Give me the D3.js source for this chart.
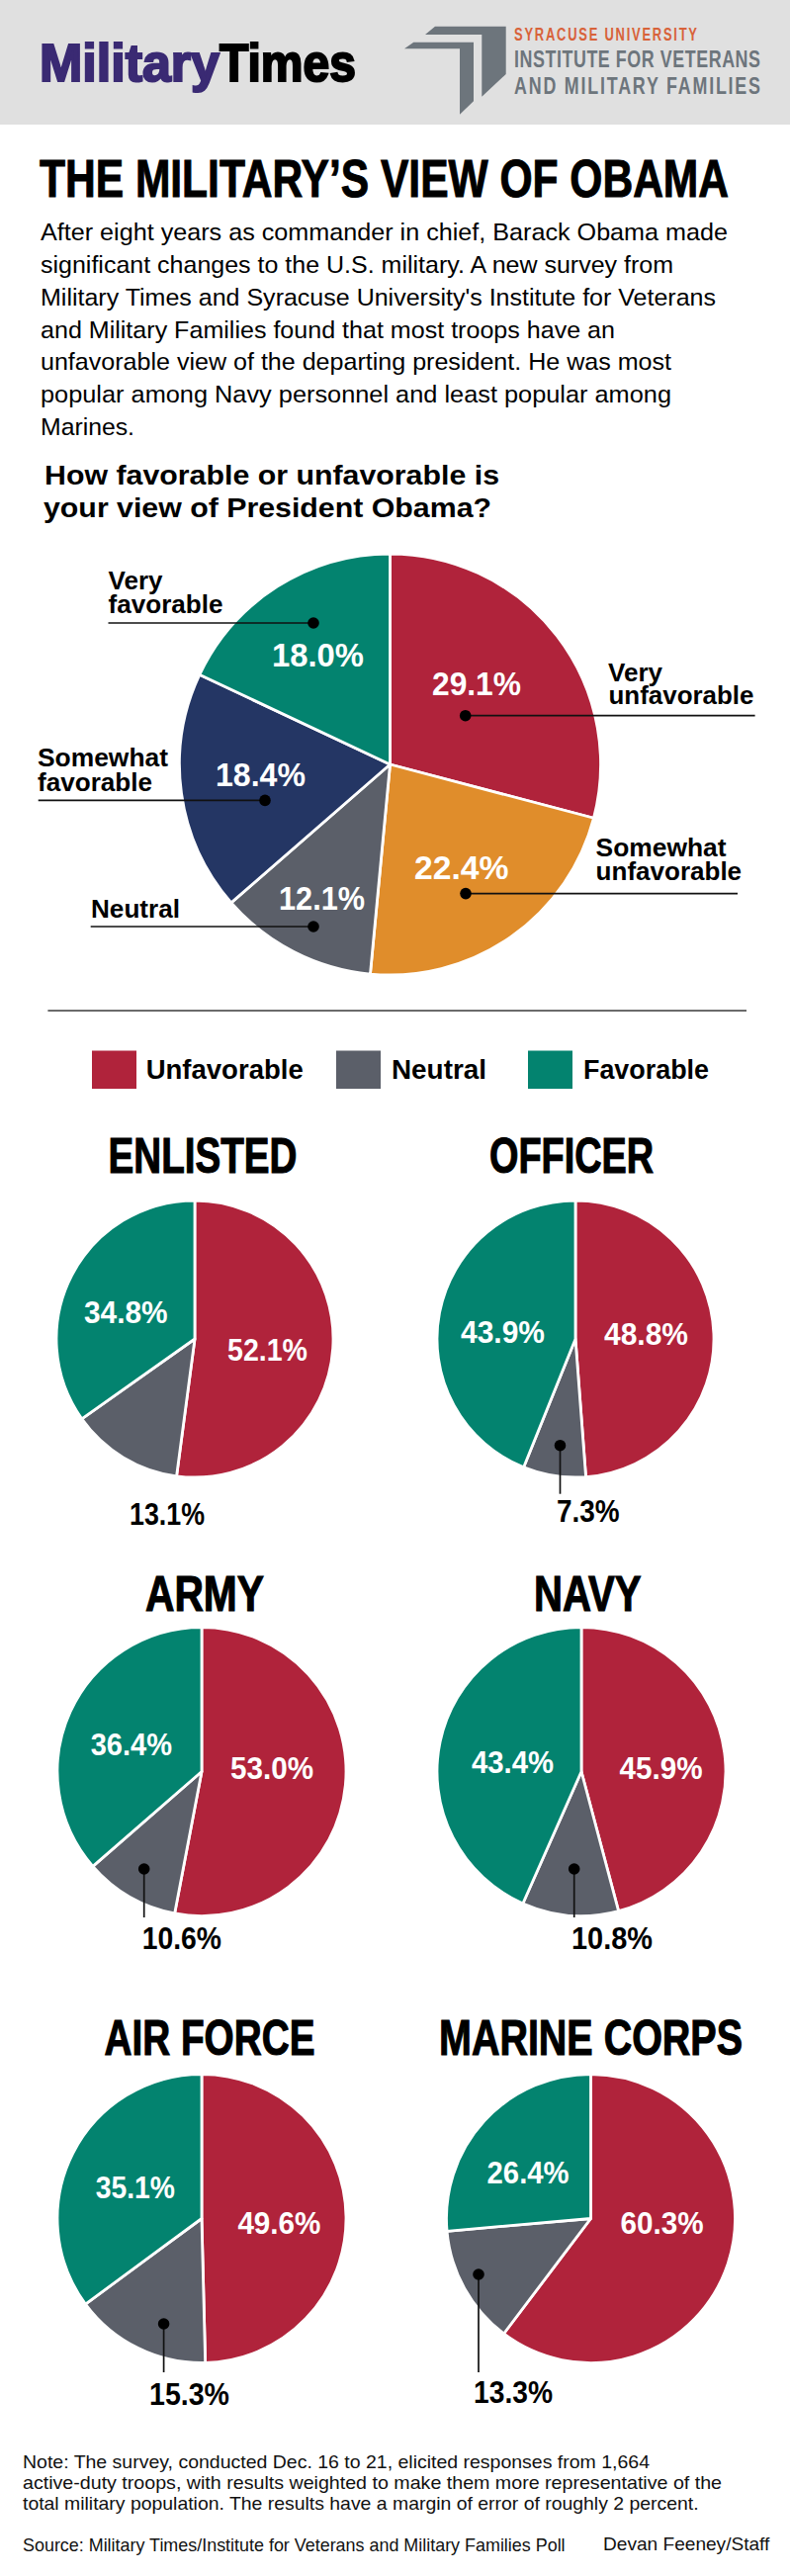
<!DOCTYPE html>
<html><head><meta charset="utf-8">
<script src="https://cdn.jsdelivr.net/npm/d3@7"></script>
<style>html,body{margin:0;padding:0;background:#fff}svg{display:block}</style>
</head><body><svg id="c" width="799" height="2605"></svg>
<script>
// ---- data ----
const overallCategories = ["Very unfavorable","Somewhat unfavorable","Neutral","Somewhat favorable","Very favorable"];
const overallValues = [29.1,22.4,12.1,18.4,18.0];
const groupNames = ["ENLISTED","OFFICER","ARMY","NAVY","AIR FORCE","MARINE CORPS"];
const unfavorable = [52.1,48.8,53.0,45.9,49.6,60.3];
const neutral = [13.1,7.3,10.6,10.8,15.3,13.3];
const favorable = [34.8,43.9,36.4,43.4,35.1,26.4];
const legendLabels = ["Unfavorable","Neutral","Favorable"];
const bodyLines = ["After eight years as commander in chief, Barack Obama made","significant changes to the U.S. military. A new survey from","Military Times and Syracuse University's Institute for Veterans","and Military Families found that most troops have an","unfavorable view of the departing president. He was most","popular among Navy personnel and least popular among","Marines."];
const noteLines = ["Note: The survey, conducted Dec. 16 to 21, elicited responses from 1,664","active-duty troops, with results weighted to make them more representative of the","total military population. The results have a margin of error of roughly 2 percent."];

// ---- style & layout ----
const RED="#b0233b",ORANGE="#e08d2b",GRAY="#5b5f69",NAVY="#243664",TEAL="#03836f";
const SANS="'Liberation Sans',Arial,sans-serif",NARROW="'Liberation Sans Narrow','Liberation Sans',sans-serif";
const svg=d3.select("#c");
function T(s,x,y,size,o={}){
  const t=svg.append("text").text(s).attr("x",x).attr("y",y).attr("font-size",size)
    .attr("font-family",o.fam||SANS).attr("font-weight",o.w||"normal").attr("fill",o.fill||"#000");
  if(o.len)t.attr("textLength",o.len).attr("lengthAdjust",o.adj||"spacingAndGlyphs");
  if(o.stroke)t.attr("stroke",o.fill||"#000").attr("stroke-width",o.stroke);
  return t;
}
// condensed, letter-spaced header line: glyphs squeezed horizontally, then spaced out to the full width
function spaced(s,x,y,size,width,fill,squeeze){
  T(s,0,0,size,{fam:NARROW,w:"bold",fill,len:width/squeeze,adj:"spacing"})
    .attr("transform",`translate(${x},${y}) scale(${squeeze},1)`);
}
// header
svg.append("rect").attr("width",799).attr("height",126).attr("fill","#e0e0e0");
T("Military",40,81.5,54,{w:"bold",fill:"#3a2a73",len:182,stroke:2.2});
T("Times",222,81.5,54,{w:"bold",fill:"#000",len:138,stroke:2.2});
const ICON="#6d757c";
const iconBack=[[440,26.7],[511.7,26.7],[511.7,75],[487.3,97.7],[487.3,35],[430,35]];
const iconFront=[[418.3,42.7],[479,42.7],[479,102.3],[465,115.7],[465,49.3],[409,49.3]];
[iconBack,iconFront].forEach(p=>svg.append("polygon").attr("points",p.join(" ")).attr("fill",ICON));
spaced("SYRACUSE UNIVERSITY",520,41,18,185,"#d8623a",.72);
spaced("INSTITUTE FOR VETERANS",520,68,23.5,249,"#6d757c",.76);
spaced("AND MILITARY FAMILIES",520,95,23.5,249,"#6d757c",.76);
// title + body
T("THE MILITARY\u2019S VIEW OF OBAMA",40,198.5,53,{fam:NARROW,w:"bold",len:697,stroke:1});
const bodyW=[695,640,683,581,638,638,95],bodyTop=243,bodyLead=32.85;
bodyLines.forEach((l,i)=>T(l,41,bodyTop+i*bodyLead,24.8,{len:bodyW[i]}));
T("How favorable or unfavorable is",45,490,28.5,{w:"bold",len:460});
T("your view of President Obama?",44,522.5,28.5,{w:"bold",len:453});

// pies through d3
const pie=d3.pie().sort(null);
function drawPie(vals,cols,cx,cy,r){
  const arc=d3.arc().innerRadius(0).outerRadius(r);
  svg.append("g").attr("transform",`translate(${cx},${cy})`).selectAll("path").data(pie(vals)).join("path")
    .attr("d",arc).attr("fill",(d,i)=>cols[i]).attr("stroke","#fff").attr("stroke-width",2.8).attr("stroke-linejoin","round");
}
drawPie(overallValues,[RED,ORANGE,GRAY,NAVY,TEAL],394.5,773,213);
function hLeader(x1,x2,y,dotX){
  svg.append("line").attr("x1",x1).attr("x2",x2).attr("y1",y).attr("y2",y).attr("stroke","#111").attr("stroke-width",1.7);
  svg.append("circle").attr("cx",dotX).attr("cy",y).attr("r",5.8).attr("fill","#000");
}
function vLeader(x,y1,y2){
  svg.append("line").attr("x1",x).attr("x2",x).attr("y1",y1).attr("y2",y2).attr("stroke","#111").attr("stroke-width",1.7);
  svg.append("circle").attr("cx",x).attr("cy",y1).attr("r",5.8).attr("fill","#000");
}
const pct=v=>v.toFixed(1)+"%";
// overall annotations: [value x, value baseline, width] and label lines
const overallPct=[[437,702.5,90],[419,889,95.5],[282,920,87],[218,794.5,91],[275,674,93]];
overallPct.forEach((p,i)=>T(pct(overallValues[i]),p[0],p[1],33,{w:"bold",fill:"#fff",len:p[2]}));
[[ "Very",615,688.5,55],["unfavorable",615.5,712,147],["Somewhat",602.6,866.4,132],["unfavorable",602.6,890,147.5],
 ["Neutral",92,927.7,90],["Somewhat",38,775,132],["favorable",38,799.5,116],["Very",109.5,596,55],["favorable",109.5,619.6,116]]
 .forEach(a=>T(a[0],a[1],a[2],26.5,{w:"bold",len:a[3]}));
hLeader(470.7,763.6,723.7,470.7);
hLeader(471,746,903.6,471);
hLeader(91.7,317,937,317);
hLeader(38.7,268,809.4,268);
hLeader(109.5,317,630,317);
// divider
svg.append("line").attr("x1",48.4).attr("x2",755).attr("y1",1022).attr("y2",1022).attr("stroke","#3a3a3a").attr("stroke-width",1.6);
// legend
const legX=[93,340,534],legTX=[147.7,396,590],legTW=[159,96,127],legC=[RED,GRAY,TEAL];
legendLabels.forEach((l,i)=>{
  svg.append("rect").attr("x",legX[i]).attr("y",1062.5).attr("width",45).attr("height",38.5).attr("fill",legC[i]);
  T(l,legTX[i],1091,28,{w:"bold",len:legTW[i]});
});
// small pies
const pieCX=[197,582,204,588,204,597.5],pieCY=[1354,1354,1791.5,1791.5,2243.5,2243.5],pieR=[140,140,146,146,146,146];
const titleX=[109.5,495,147,540,105.5,444],titleB=[1185.5,1185.5,1628.5,1628.5,2077.5,2077.5],titleW=[191,166,120,108.5,213,307];
const favP=[[85,1338,84.6],[466,1358,85],[91.7,1775,82.3],[477,1793,83],[96.8,2222.5,80.2],[492.6,2208,83]];
const unfP=[[230,1375.7,81],[611,1360,85],[233,1799,84],[626.6,1799,84],[240.4,2258.5,84],[627.6,2258.5,84]];
const neuP=[[131,1541.7,76],[563,1539,63.6],[143.7,1970.7,80.3],[578,1970.7,82],[151,2431.5,81],[479,2430,80]];
const leaders=[null,[566.5,1461.7,1510.7],[145.7,1890,1939],[580.7,1890,1939],[165.6,2350,2399],[484,2300,2399]];
groupNames.forEach((n,i)=>{
  T(n,titleX[i],titleB[i],50,{fam:NARROW,w:"bold",len:titleW[i],stroke:1.1});
  drawPie([unfavorable[i],neutral[i],favorable[i]],[RED,GRAY,TEAL],pieCX[i],pieCY[i],pieR[i]);
  T(pct(favorable[i]),favP[i][0],favP[i][1],30.5,{w:"bold",fill:"#fff",len:favP[i][2]});
  T(pct(unfavorable[i]),unfP[i][0],unfP[i][1],30.5,{w:"bold",fill:"#fff",len:unfP[i][2]});
  T(pct(neutral[i]),neuP[i][0],neuP[i][1],30.5,{w:"bold",len:neuP[i][2]});
  if(leaders[i])vLeader(...leaders[i]);
});
// footer
const noteW=[634,707,683.6];
noteLines.forEach((l,i)=>T(l,23,2495.7+i*21.2,18.5,{len:noteW[i],fill:"#111"}));
T("Source: Military Times/Institute for Veterans and Military Families Poll",23,2580,18.5,{len:548.6,fill:"#111"});
T("Devan Feeney/Staff",610,2579,18.5,{len:168.4,fill:"#111"});
</script></body></html>
